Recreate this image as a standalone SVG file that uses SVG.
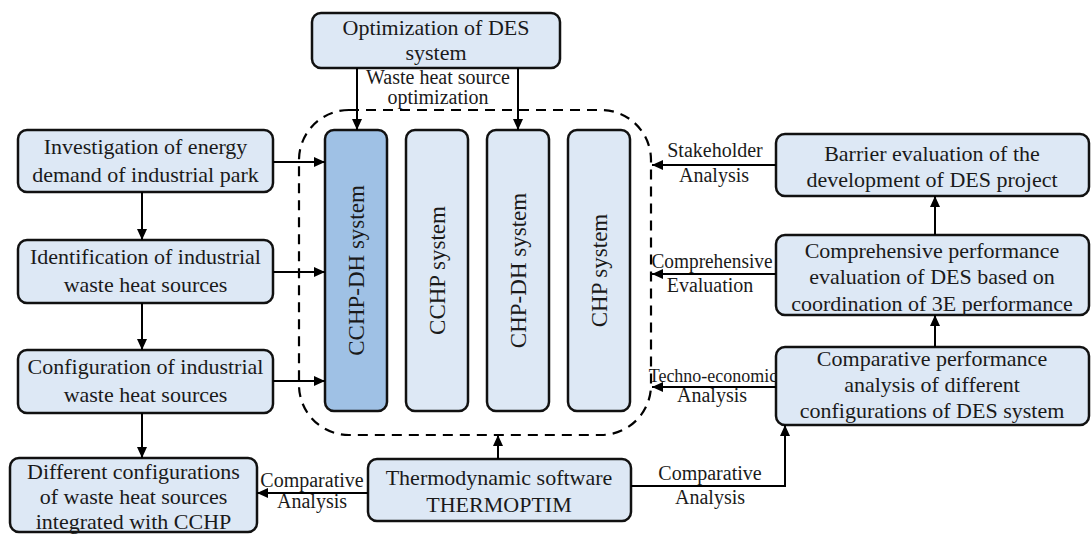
<svg xmlns="http://www.w3.org/2000/svg" width="1092" height="534" viewBox="0 0 1092 534">
<defs>
<marker id="ah" markerWidth="12" markerHeight="10" refX="11" refY="5" orient="auto" markerUnits="userSpaceOnUse"><path d="M0,0 L11,5 L0,10 z" fill="#000"/></marker>
</defs>
<style>
.box{fill:#dde8f5;stroke:#111;stroke-width:2.5}
.dark{fill:#9fc1e5}
text{font-family:"Liberation Serif","Times New Roman",serif;fill:#1a1a1a}
.t{font-size:22px;text-anchor:middle}
.v{font-size:23px;text-anchor:middle}
.l{font-size:20px;text-anchor:middle}
.c{stroke:#000;stroke-width:2;fill:none}
.dash{fill:none;stroke:#000;stroke-width:2.2;stroke-dasharray:10 7}
</style>
<rect width="1092" height="534" fill="#fff"/>
<g id="boundary"><rect class="dash" x="299" y="110" width="352" height="325" rx="50"/></g>
<g id="opt"><rect class="box" x="312" y="13" width="248" height="55" rx="9"/><text class="t" x="436" y="35">Optimization of DES</text><text class="t" x="436" y="60">system</text></g>
<g id="inv"><rect class="box" x="18" y="130" width="255" height="62" rx="9"/><text class="t" x="145.5" y="154">Investigation of energy</text><text class="t" x="145.5" y="182">demand of industrial park</text></g>
<g id="ident"><rect class="box" x="18" y="240" width="255" height="63" rx="9"/><text class="t" x="145.5" y="264">Identification of industrial</text><text class="t" x="145.5" y="292">waste heat sources</text></g>
<g id="config"><rect class="box" x="18" y="350" width="255" height="63" rx="9"/><text class="t" x="145.5" y="374">Configuration of industrial</text><text class="t" x="145.5" y="402">waste heat sources</text></g>
<g id="diff"><rect class="box" x="10" y="458" width="247" height="74" rx="9"/><text class="t" x="133.5" y="479">Different configurations</text><text class="t" x="133.5" y="504">of waste heat sources</text><text class="t" x="133.5" y="529">integrated with CCHP</text></g>
<g id="thermo"><rect class="box" x="368" y="459" width="263" height="62" rx="9"/><text class="t" x="499" y="485">Thermodynamic software</text><text class="t" x="499" y="512">THERMOPTIM</text></g>
<g id="cchpdh"><rect class="box dark" x="325" y="130" width="62" height="281" rx="9"/><text class="v" transform="translate(363.5,270.5) rotate(-90)">CCHP-DH system</text></g>
<g id="cchp"><rect class="box" x="406" y="130" width="62" height="281" rx="9"/><text class="v" transform="translate(444.5,270.5) rotate(-90)">CCHP system</text></g>
<g id="chpdh"><rect class="box" x="487" y="130" width="62" height="281" rx="9"/><text class="v" transform="translate(525.5,270.5) rotate(-90)">CHP-DH system</text></g>
<g id="chp"><rect class="box" x="568" y="130" width="62" height="281" rx="9"/><text class="v" transform="translate(606.5,270.5) rotate(-90)">CHP system</text></g>
<g id="barrier"><rect class="box" x="776" y="134" width="313" height="62" rx="9"/><text class="t" x="932" y="161">Barrier evaluation of the</text><text class="t" x="932" y="187">development of DES project</text></g>
<g id="compre"><rect class="box" x="776" y="235" width="313" height="80" rx="9"/><text class="t" x="932" y="258">Comprehensive performance</text><text class="t" x="932" y="284">evaluation of DES based on</text><text class="t" x="932" y="311">coordination of 3E performance</text></g>
<g id="compar"><rect class="box" x="776" y="347" width="313" height="78" rx="9"/><text class="t" x="932" y="366">Comparative performance</text><text class="t" x="932" y="392">analysis of different</text><text class="t" x="932" y="418">configurations of DES system</text></g>
<g id="connectors">
<path class="c" d="M357,68 V130" marker-end="url(#ah)"/>
<path class="c" d="M518,68 V130" marker-end="url(#ah)"/>
<path class="c" d="M273,162 H325" marker-end="url(#ah)"/>
<path class="c" d="M273,272 H325" marker-end="url(#ah)"/>
<path class="c" d="M273,381 H325" marker-end="url(#ah)"/>
<path class="c" d="M142,192 V240" marker-end="url(#ah)"/>
<path class="c" d="M142,303 V350" marker-end="url(#ah)"/>
<path class="c" d="M142,413 V458" marker-end="url(#ah)"/>
<path class="c" d="M498,459 V435" marker-end="url(#ah)"/>
<path class="c" d="M368,493 H257" marker-end="url(#ah)"/>
<path class="c" d="M631,486 H785 V425" marker-end="url(#ah)"/>
<path class="c" d="M935,235 V196" marker-end="url(#ah)"/>
<path class="c" d="M935,347 V315" marker-end="url(#ah)"/>
<path class="c" d="M776,165 H652" marker-end="url(#ah)"/>
<path class="c" d="M776,274 H652" marker-end="url(#ah)"/>
<path class="c" d="M776,387 H652" marker-end="url(#ah)"/>
<text class="l" x="438" y="84">Waste heat source</text>
<text class="l" x="438" y="104">optimization</text>
<text class="l" x="715" y="157">Stakeholder</text>
<text class="l" x="714" y="182">Analysis</text>
<text class="l" x="712" y="268" textLength="121" lengthAdjust="spacingAndGlyphs">Comprehensive</text>
<text class="l" x="710" y="292">Evaluation</text>
<text class="l" x="713" y="382" style="font-size:18px">Techno-economic</text>
<text class="l" x="712" y="402">Analysis</text>
<text class="l" x="312" y="487">Comparative</text>
<text class="l" x="312" y="508">Analysis</text>
<text class="l" x="710" y="480">Comparative</text>
<text class="l" x="710" y="504">Analysis</text>
</g>
</svg>
